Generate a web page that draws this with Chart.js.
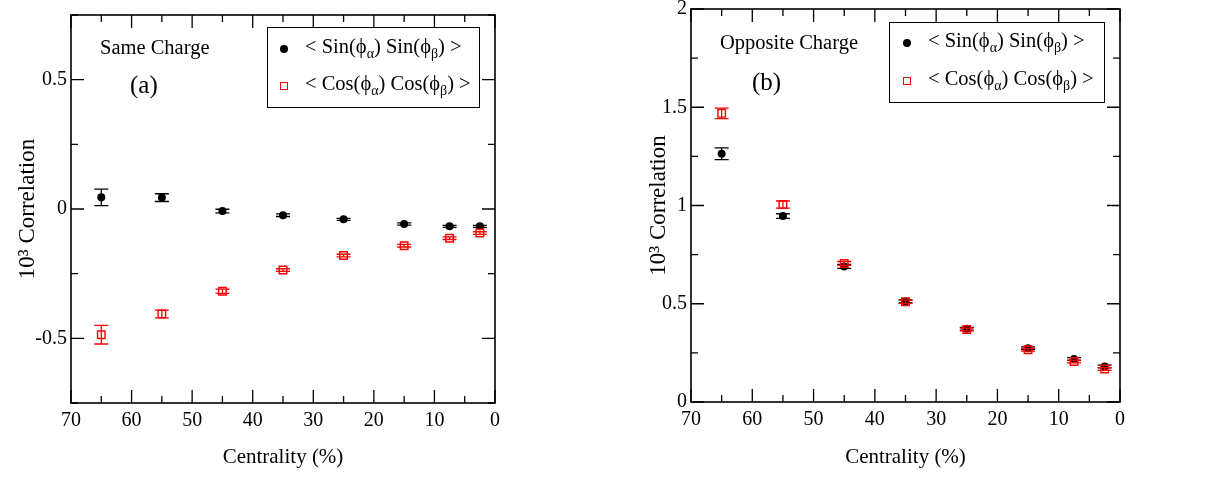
<!DOCTYPE html>
<html><head><meta charset="utf-8">
<script src="https://cdn.jsdelivr.net/npm/chart.js@4.4.1/dist/chart.umd.min.js"></script>
<style>
html,body{margin:0;padding:0;background:#fff;}
body{width:1230px;height:477px;position:relative;overflow:hidden;font-family:"Liberation Serif","Times New Roman",serif;color:#000;}
.panel{position:absolute;top:0;width:615px;height:477px;}
.t{position:absolute;white-space:nowrap;font-size:20.5px;line-height:24px;}
.big{font-size:25px;line-height:30px;}
.t sub{font-size:14px;vertical-align:-5px;line-height:0;}
.lbox{position:absolute;box-sizing:border-box;border:1.5px solid #000;background:#fff;}
.dot{position:absolute;width:8px;height:8px;border-radius:50%;background:#000;}
.sq{position:absolute;box-sizing:border-box;width:8px;height:8px;border:1.5px solid #f00;background:#fff;}
</style></head>
<body>
<div class="panel" style="left:0"><canvas id="ca" width="615" height="477"></canvas></div>
<div class="panel" style="left:615px"><canvas id="cb" width="615" height="477"></canvas></div>

<div class="t" style="left:100px;top:35px">Same Charge</div>
<div class="t big" style="left:130px;top:70px">(a)</div>
<div class="lbox" style="left:267px;top:27px;width:213px;height:81px"></div>
<div class="dot" style="left:280px;top:45px"></div>
<div class="sq" style="left:280px;top:82px"></div>
<div class="t" style="left:305px;top:34px">&lt; Sin(ϕ<sub>α</sub>) Sin(ϕ<sub>β</sub>) &gt;</div>
<div class="t" style="left:305px;top:71px">&lt; Cos(ϕ<sub>α</sub>) Cos(ϕ<sub>β</sub>) &gt;</div>

<div class="t" style="left:720px;top:30px">Opposite Charge</div>
<div class="t big" style="left:752px;top:67px">(b)</div>
<div class="lbox" style="left:889px;top:22px;width:216px;height:81px"></div>
<div class="dot" style="left:903px;top:39px"></div>
<div class="sq" style="left:903px;top:77px"></div>
<div class="t" style="left:928px;top:28px">&lt; Sin(ϕ<sub>α</sub>) Sin(ϕ<sub>β</sub>) &gt;</div>
<div class="t" style="left:928px;top:66px">&lt; Cos(ϕ<sub>α</sub>) Cos(ϕ<sub>β</sub>) &gt;</div>

<script>
// ---- data ----
const centrality = [65, 55, 45, 35, 25, 15, 7.5, 2.5];

const sameSin    = [0.045, 0.044, -0.008, -0.024, -0.040, -0.058, -0.067, -0.067];
const sameSinErr = [0.032, 0.015, 0.007, 0.005, 0.004, 0.004, 0.004, 0.004];
const sameCos    = [-0.486, -0.406, -0.318, -0.236, -0.180, -0.142, -0.113, -0.093];
const sameCosErr = [0.036, 0.015, 0.008, 0.005, 0.005, 0.005, 0.005, 0.005];

const oppSin    = [1.263, 0.946, 0.690, 0.512, 0.373, 0.274, 0.219, 0.181];
const oppSinErr = [0.030, 0.012, 0.010, 0.008, 0.007, 0.007, 0.007, 0.007];
const oppCos    = [1.469, 1.005, 0.705, 0.510, 0.369, 0.266, 0.206, 0.168];
const oppCosErr = [0.027, 0.018, 0.010, 0.008, 0.007, 0.007, 0.007, 0.007];

const xTickValues    = [70, 60, 50, 40, 30, 20, 10, 0];
const yTickValuesA   = [-0.5, 0, 0.5];
const yTickValuesB   = [0, 0.5, 1, 1.5, 2];

const xTitle = 'Centrality (%)';
const yTitle = '10\u00B3 Correlation';

// ---- plugin: error bars, frame, inward ticks ----
const framePlugin = {
  id: 'frame',
  beforeDatasetDraw(chart, args) {
    const ds = chart.data.datasets[args.index];
    if (!ds.errs) return;
    const xs = chart.scales.x, ys = chart.scales.y, ctx = chart.ctx;
    ctx.save();
    ctx.strokeStyle = ds.borderColor;
    ctx.lineWidth = 1.3;
    ds.data.forEach((p, i) => {
      const e = ds.errs[i];
      const px = xs.getPixelForValue(p.x);
      const t = ys.getPixelForValue(p.y + e), b = ys.getPixelForValue(p.y - e);
      ctx.beginPath();
      ctx.moveTo(px, t); ctx.lineTo(px, b);
      ctx.moveTo(px - 7, t); ctx.lineTo(px + 7, t);
      ctx.moveTo(px - 7, b); ctx.lineTo(px + 7, b);
      ctx.stroke();
    });
    ctx.restore();
  },
  afterDraw(chart, args, o) {
    const a = chart.chartArea, ctx = chart.ctx, xs = chart.scales.x, ys = chart.scales.y;
    ctx.save();
    ctx.strokeStyle = '#000';
    ctx.lineWidth = 1.3;
    const isMaj = (v, m) => Math.abs(v / m - Math.round(v / m)) < 1e-6;
    for (let v = xs.min; v <= xs.max + 1e-9; v += o.xMinor) {
      const px = xs.getPixelForValue(v);
      const L = isMaj(v, o.xMajor) ? 13 : 7;
      ctx.beginPath();
      ctx.moveTo(px, a.bottom); ctx.lineTo(px, a.bottom - L);
      ctx.moveTo(px, a.top); ctx.lineTo(px, a.top + L);
      ctx.stroke();
    }
    for (let v = ys.min; v <= ys.max + 1e-9; v += o.yMinor) {
      const py = ys.getPixelForValue(v);
      const L = isMaj(v, o.yMajor) ? 13 : 7;
      ctx.beginPath();
      ctx.moveTo(a.left, py); ctx.lineTo(a.left + L, py);
      ctx.moveTo(a.right, py); ctx.lineTo(a.right - L, py);
      ctx.stroke();
    }
    ctx.lineWidth = 1.6;
    ctx.strokeRect(a.left, a.top, a.right - a.left, a.bottom - a.top);
    ctx.restore();
  }
};

const tickFont = {family: '"Liberation Serif", serif', size: 20};
const xTitleFont = {family: '"Liberation Serif", serif', size: 21};
const yTitleFont = {family: '"Liberation Serif", serif', size: 23};

function makeChart(id, sinV, sinE, cosV, cosE, yMin, yMax, yTicks, geo) {
  const pts = v => centrality.map((c, i) => ({x: c, y: v[i]}));
  return new Chart(document.getElementById(id), {
    type: 'scatter',
    data: {
      datasets: [
        {label: 'sin', data: pts(sinV), errs: sinE, order: 1,
         pointStyle: 'circle', pointRadius: 4, backgroundColor: '#000', borderColor: '#000', borderWidth: 0, showLine: false},
        {label: 'cos', data: pts(cosV), errs: cosE, order: 0,
         pointStyle: 'rect', pointRadius: 5.3, backgroundColor: 'rgba(0,0,0,0)', borderColor: '#f00', borderWidth: 1.4, showLine: false}
      ]
    },
    options: {
      responsive: false, animation: false, devicePixelRatio: 1,
      layout: {padding: {left: 0, top: geo.top, right: geo.right, bottom: 0}},
      plugins: {legend: {display: false}, tooltip: {enabled: false},
        frame: {xMinor: 5, xMajor: 10, yMinor: 0.25, yMajor: 0.5}},
      scales: {
        x: {type: 'linear', reverse: true, min: 0, max: 70,
          grid: {display: false, drawTicks: false}, border: {display: false},
          afterBuildTicks(s) { s.ticks = xTickValues.map(v => ({value: v})); },
          ticks: {color: '#000', font: tickFont, padding: 6, maxRotation: 0, autoSkip: false, callback: v => String(v)},
          title: {display: true, text: xTitle, color: '#000', font: xTitleFont, padding: {top: 0, bottom: 7}},
          afterFit(s) { s.height = geo.xh; s.paddingLeft = 0; s.paddingRight = 0; }
        },
        y: {type: 'linear', min: yMin, max: yMax,
          grid: {display: false, drawTicks: false}, border: {display: false},
          afterBuildTicks(s) { s.ticks = yTicks.map(v => ({value: v})); },
          ticks: {color: '#000', font: tickFont, padding: 4, autoSkip: false, callback: v => String(v)},
          title: {display: true, text: yTitle, color: '#000', font: yTitleFont, padding: {top: geo.yt, bottom: 0}},
          afterFit(s) { s.width = geo.yw; s.paddingTop = 0; s.paddingBottom = 0; }
        }
      }
    },
    plugins: [framePlugin]
  });
}

makeChart('ca', sameSin, sameSinErr, sameCos, sameCosErr, -0.75, 0.75, yTickValuesA, {top: 15, right: 120, xh: 74, yw: 71, yt: 14});
makeChart('cb', oppSin, oppSinErr, oppCos, oppCosErr, 0, 2, yTickValuesB, {top: 9, right: 110, xh: 75, yw: 76, yt: 30});
</script>
</body></html>
